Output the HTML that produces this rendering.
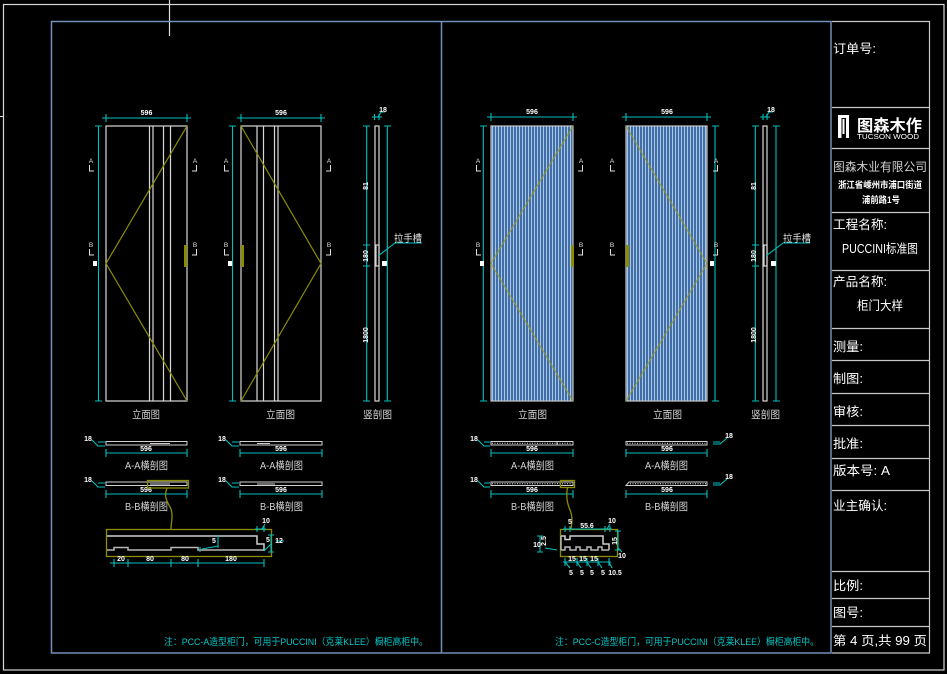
<!DOCTYPE html>
<html><head><meta charset="utf-8">
<style>
html,body{margin:0;padding:0;background:#000;}
svg{display:block;}
text{font-family:"Liberation Sans","Noto Sans CJK SC",sans-serif;}
.t{fill:#fff;font-size:12.5px;}
.d{fill:#fff;font-size:7px;font-weight:bold;}
.lb{fill:#d4d4d4;font-size:10.5px;}
.mk{fill:#e0e0e0;font-size:6.5px;}
</style></head><body>
<svg width="947" height="674" viewBox="0 0 947 674" xmlns="http://www.w3.org/2000/svg">
<defs>
<pattern id="st" x="0" y="0" width="3" height="10" patternUnits="userSpaceOnUse">
<rect width="3" height="10" fill="#416ea6"/>
<rect width="1" height="10" fill="#a8c6e8"/>
</pattern>
</defs>
<rect width="947" height="674" fill="#000"/>

<!-- outer white frame -->
<rect x="3.5" y="4.5" width="940.5" height="665.5" fill="none" stroke="#d6d6d6" stroke-width="1.2"/>
<line x1="169.5" y1="0" x2="169.5" y2="36" stroke="#e0e0e0" stroke-width="1.2"/>
<line x1="0" y1="116.5" x2="4" y2="116.5" stroke="#e0e0e0"/>

<!-- blue frame -->
<rect x="51.5" y="21.5" width="779.5" height="631.5" fill="none" stroke="#7090b8" stroke-width="1.5"/>
<line x1="441.5" y1="21" x2="441.5" y2="653" stroke="#7090b8" stroke-width="1.5"/>

<!-- title block -->
<g stroke="#c8c8c8" stroke-width="1.2" fill="none">
<path d="M832,21.5H929.5V653H832"/>
<path d="M832,107.5H929 M832,148.5H929 M832,212.5H929 M832,270.5H929 M832,328.5H929 M832,360.5H929 M832,393.5H929 M832,425.5H929 M832,458.5H929 M832,490.5H929 M832,571.5H929 M832,598.5H929 M832,626.5H929"/>
</g>
<text class="t" x="833" y="53" textLength="43" lengthAdjust="spacingAndGlyphs">订单号:</text>
<g fill="#fff">
<rect x="838" y="115" width="11" height="3"/>
<rect x="838" y="115" width="3.5" height="23"/>
<rect x="842.5" y="119" width="2" height="15"/>
<rect x="846" y="118" width="3" height="20"/>
</g>
<text x="857" y="131" fill="#fff" font-size="16" font-weight="bold" textLength="65" lengthAdjust="spacingAndGlyphs">图森木作</text>
<text x="857" y="139" fill="#fff" font-size="7" textLength="62" lengthAdjust="spacingAndGlyphs">TUCSON WOOD</text>
<text x="833" y="171" fill="#d0d0d0" font-size="12" textLength="94" lengthAdjust="spacingAndGlyphs">图森木业有限公司</text>
<text x="838" y="188" fill="#fff" font-size="9" font-weight="bold" textLength="84" lengthAdjust="spacingAndGlyphs">浙江省嵊州市浦口街道</text>
<text x="862" y="203" fill="#fff" font-size="9" font-weight="bold" textLength="38" lengthAdjust="spacingAndGlyphs">浦前路1号</text>
<text class="t" x="833" y="229" textLength="54" lengthAdjust="spacingAndGlyphs">工程名称:</text>
<text class="t" x="842" y="253" textLength="76" lengthAdjust="spacingAndGlyphs">PUCCINI标准图</text>
<text class="t" x="833" y="286" textLength="54" lengthAdjust="spacingAndGlyphs">产品名称:</text>
<text class="t" x="857" y="310" textLength="46" lengthAdjust="spacingAndGlyphs">柜门大样</text>
<text class="t" x="833" y="351" textLength="30" lengthAdjust="spacingAndGlyphs">测量:</text>
<text class="t" x="833" y="383" textLength="30" lengthAdjust="spacingAndGlyphs">制图:</text>
<text class="t" x="833" y="416" textLength="30" lengthAdjust="spacingAndGlyphs">审核:</text>
<text class="t" x="833" y="448" textLength="30" lengthAdjust="spacingAndGlyphs">批准:</text>
<text class="t" x="833" y="475" textLength="57" lengthAdjust="spacingAndGlyphs">版本号: A</text>
<text class="t" x="833" y="510" textLength="54" lengthAdjust="spacingAndGlyphs">业主确认:</text>
<text class="t" x="833" y="590" textLength="30" lengthAdjust="spacingAndGlyphs">比例:</text>
<text class="t" x="833" y="617" textLength="30" lengthAdjust="spacingAndGlyphs">图号:</text>
<text class="t" x="833" y="645" textLength="94" lengthAdjust="spacingAndGlyphs">第 4 页,共 99 页</text>

<!-- ============ LEFT DOORS ============ -->
<g stroke="#d8d8d8" stroke-width="1.2" fill="none">
<rect x="106" y="126" width="81" height="275"/>
<path d="M149.5,126V401 M153,126V401 M163.5,126V401 M170.5,126V401"/>
<rect x="241" y="126" width="80" height="275"/>
<path d="M257,126V401 M263.5,126V401 M274.5,126V401 M278,126V401"/>
<rect x="375" y="126" width="4" height="275"/>
<rect x="376" y="245" width="3" height="21"/>
</g>
<g stroke="#8c8c00" stroke-width="1.2" fill="none">
<polyline points="187,126 106,263.5 187,401"/>
<polyline points="241,126 321,263.5 241,401"/>
</g>
<rect x="184" y="245" width="3" height="22" fill="#8c8c00"/>
<rect x="241" y="245" width="3" height="22" fill="#8c8c00"/>

<!-- ============ RIGHT DOORS ============ -->
<rect x="491" y="126" width="82" height="275" fill="url(#st)" stroke="#c8c8c8" stroke-width="1.2"/>
<rect x="626" y="126" width="81" height="275" fill="url(#st)" stroke="#c8c8c8" stroke-width="1.2"/>
<g stroke="#9a9a10" stroke-width="1.2" fill="none" opacity="0.75">
<polyline points="573,126 491,263.5 573,401"/>
<polyline points="626,126 707,263.5 626,401"/>
</g>
<rect x="571" y="245" width="3" height="22" fill="#8c8c00"/>
<rect x="626" y="245" width="3" height="22" fill="#8c8c00"/>
<g stroke="#d8d8d8" stroke-width="1.2" fill="none">
<rect x="763" y="126" width="4" height="275"/>
<rect x="764" y="245" width="3" height="21"/>
</g>

<!-- dimensions elevations -->
<g stroke="#00c0c0" stroke-width="1.1" fill="none">
<path d="M106,118H187 M106,114V122 M187,114V122 M102,118H110 M183,118H191"/>
<path d="M98.5,126V401 M95,126H102 M95,401H102"/>
<path d="M241,118H321 M241,114V122 M321,114V122 M237,118H245 M317,118H325"/>
<path d="M232.5,126V401 M229,126H236 M229,401H236"/>
<path d="M366.7,126V401 M363,126H370 M363,245H370 M363,266H370 M363,401H370"/>
<path d="M387.3,126V401 M384,126H391 M384,401H391"/>
<path d="M372,117H382 M374.5,114V120 M379,114V120 M378,117L381,112H385"/>
<path d="M395,243H422 M395,243L378,256"/>

<path d="M491,117H573 M491,113V121 M573,113V121 M487,117H495 M569,117H577"/>
<path d="M483.3,126V401 M480,126H487 M480,401H487"/>
<path d="M626,117H707 M626,113V121 M707,113V121 M622,117H630 M703,117H711"/>
<path d="M715,126V401 M712,126H719 M712,401H719"/>
<path d="M755.3,126V401 M752,126H759 M752,245H759 M752,266H759 M752,401H759"/>
<path d="M776,126V401 M773,126H780 M773,401H780"/>
<path d="M760,117H770 M763,114V120 M767,114V120 M766,117L769,112H773"/>
<path d="M783,243H810 M783,243L766,256"/>
</g>
<text class="d" x="146.5" y="115" text-anchor="middle">596</text>
<text class="d" x="281" y="115" text-anchor="middle">596</text>
<text class="d" x="383" y="112" text-anchor="middle">18</text>
<text class="d" x="532" y="114" text-anchor="middle">596</text>
<text class="d" x="667" y="114" text-anchor="middle">596</text>
<text class="d" x="771" y="112" text-anchor="middle">18</text>
<g fill="#fff">
<rect x="93" y="261" width="4" height="5"/>
<rect x="228" y="261" width="4" height="5"/>
<rect x="382" y="261" width="5" height="5"/>
<rect x="480" y="261" width="4" height="5"/>
<rect x="710" y="261" width="4" height="5"/>
<rect x="771" y="261" width="5" height="5"/>
</g>
<g class="d">
<text transform="translate(368,186) rotate(-90)" text-anchor="middle" class="d">81</text>
<text transform="translate(368,256) rotate(-90)" text-anchor="middle" class="d">180</text>
<text transform="translate(368,335) rotate(-90)" text-anchor="middle" class="d">1800</text>
<text transform="translate(756,186) rotate(-90)" text-anchor="middle" class="d">81</text>
<text transform="translate(756,256) rotate(-90)" text-anchor="middle" class="d">180</text>
<text transform="translate(756,335) rotate(-90)" text-anchor="middle" class="d">1800</text>
</g>
<text x="394" y="242" fill="#e0e0e0" font-size="10" textLength="28" lengthAdjust="spacingAndGlyphs">拉手槽</text>
<text x="783" y="242" fill="#e0e0e0" font-size="10" textLength="28" lengthAdjust="spacingAndGlyphs">拉手槽</text>

<!-- section marks -->
<g stroke="#e0e0e0" stroke-width="1" fill="none">
<path d="M89.5,165V171H94 M89.5,249V255H94"/>
<path d="M196.5,165V171H192 M196.5,249V255H192"/>
<path d="M224.5,165V171H229 M224.5,249V255H229"/>
<path d="M330.5,165V171H326 M330.5,249V255H326"/>
<path d="M476.5,165V171H481 M476.5,249V255H481"/>
<path d="M582.5,165V171H578 M582.5,249V255H578"/>
<path d="M610.5,165V171H615 M610.5,249V255H615"/>
<path d="M717.5,165V171H713 M717.5,249V255H713"/>
</g>
<g class="mk" text-anchor="middle">
<text x="91" y="163">A</text><text x="91" y="247">B</text>
<text x="195" y="163">A</text><text x="195" y="247">B</text>
<text x="226" y="163">A</text><text x="226" y="247">B</text>
<text x="329" y="163">A</text><text x="329" y="247">B</text>
<text x="478" y="163">A</text><text x="478" y="247">B</text>
<text x="581" y="163">A</text><text x="581" y="247">B</text>
<text x="612" y="163">A</text><text x="612" y="247">B</text>
<text x="716" y="163">A</text><text x="716" y="247">B</text>
</g>

<!-- elevation labels -->
<text class="lb" x="132" y="418" textLength="28" lengthAdjust="spacingAndGlyphs">立面图</text>
<text class="lb" x="266" y="418" textLength="29" lengthAdjust="spacingAndGlyphs">立面图</text>
<text class="lb" x="363" y="418" textLength="29" lengthAdjust="spacingAndGlyphs">竖剖图</text>
<text class="lb" x="518" y="418" textLength="29" lengthAdjust="spacingAndGlyphs">立面图</text>
<text class="lb" x="653" y="418" textLength="29" lengthAdjust="spacingAndGlyphs">立面图</text>
<text class="lb" x="751" y="418" textLength="29" lengthAdjust="spacingAndGlyphs">竖剖图</text>

<!-- ============ LEFT SECTIONS ============ -->
<g stroke="#d0d0d0" stroke-width="1" fill="none">
<rect x="106" y="441.5" width="81" height="3.5"/>
<path d="M150,443.5H170"/>
<rect x="240" y="441.5" width="82" height="3.5"/>
<path d="M257,443.5H270"/>
<rect x="106" y="482" width="81" height="3.5"/>
<path d="M150,484H170"/>
<rect x="240" y="482" width="82" height="3.5"/>
<path d="M257,484H275"/>
</g>
<g stroke="#00c0c0" stroke-width="1.1" fill="none">
<path d="M106,453H187 M106,449V457 M187,449V457"/>
<path d="M240,453H322 M240,449V457 M322,449V457"/>
<path d="M106,494H187 M106,490V498 M187,490V498"/>
<path d="M240,494H322 M240,490V498 M322,490V498"/>
<path d="M92,440L98,446H105 M98,442H105"/>
<path d="M226,440L232,446H239 M232,442H239"/>
<path d="M92,481L98,487H105 M98,483H105"/>
<path d="M226,481L232,487H239 M232,483H239"/>
</g>
<g class="d">
<text x="88" y="441" text-anchor="middle" class="d">18</text>
<text x="222" y="441" text-anchor="middle" class="d">18</text>
<text x="88" y="482" text-anchor="middle" class="d">18</text>
<text x="222" y="482" text-anchor="middle" class="d">18</text>
<text x="146" y="451" text-anchor="middle" class="d">596</text>
<text x="281" y="451" text-anchor="middle" class="d">596</text>
<text x="146" y="492" text-anchor="middle" class="d">596</text>
<text x="281" y="492" text-anchor="middle" class="d">596</text>
</g>
<text class="lb" x="125" y="469" textLength="43" lengthAdjust="spacingAndGlyphs">A-A横剖图</text>
<text class="lb" x="260" y="469" textLength="43" lengthAdjust="spacingAndGlyphs">A-A横剖图</text>
<text class="lb" x="125" y="510" textLength="43" lengthAdjust="spacingAndGlyphs">B-B横剖图</text>
<text class="lb" x="260" y="510" textLength="43" lengthAdjust="spacingAndGlyphs">B-B横剖图</text>

<!-- left detail -->
<g stroke="#8c8c00" stroke-width="1.3" fill="none">
<rect x="147.5" y="480.5" width="41" height="7.5"/>
<path d="M167,488 C164,495 166,500 170,507 C174,514 171,522 171,529"/>
<rect x="106.5" y="529.5" width="165" height="27"/>
</g>
<g stroke="#d0d0d0" stroke-width="1.5" fill="none">
<path d="M107,536H257V544H264V551"/>
<path d="M107,550H114V547.5H128V550H171V547.5H198V550H264" stroke="#b8b8b8"/>
</g>
<g stroke="#00c0c0" stroke-width="1.1" fill="none">
<path d="M114,563H264 M114,559V567 M128,559V567 M171,559V567 M198,559V567 M264,559V567 M110,563H114"/>
<path d="M255,529H266 M257,526V532 M264,526V532 M262,529L265,524"/>
<path d="M271,535V552 M268,535H274 M268,552H274 M271,544L264,551 M276,541H284"/>
<path d="M218,535V548 M218,546L202,549 M200,547V552"/>
</g>
<g class="d">
<text x="121" y="561" text-anchor="middle" class="d">20</text>
<text x="150" y="561" text-anchor="middle" class="d">80</text>
<text x="185" y="561" text-anchor="middle" class="d">80</text>
<text x="231" y="561" text-anchor="middle" class="d">180</text>
<text x="266" y="523" text-anchor="middle" class="d">10</text>
<text x="268" y="542" text-anchor="middle" class="d">5</text>
<text x="279" y="543" text-anchor="middle" class="d">12</text>
<text x="214" y="543" text-anchor="middle" class="d">5</text>
</g>

<!-- ============ RIGHT SECTIONS ============ -->
<g stroke="#d0d0d0" stroke-width="1" fill="none">
<rect x="491" y="441.5" width="82" height="3.5"/>
<path d="M557,441.5V445"/>
<rect x="626" y="441.5" width="81" height="3.5"/>
<rect x="491" y="482" width="82" height="3.5"/>
<path d="M626,485.5L629,482H707V485.5Z"/>
</g>
<g stroke="#e8e8e8" stroke-width="1" stroke-dasharray="1 1.5" fill="none">
<path d="M492,443.3H572 M627,443.3H706 M492,483.8H572 M630,483.8H706"/>
</g>
<g stroke="#00c0c0" stroke-width="1.1" fill="none">
<path d="M491,453H573 M491,449V457 M573,449V457"/>
<path d="M626,453H707 M626,449V457 M707,449V457"/>
<path d="M491,494H573 M491,490V498 M573,490V498"/>
<path d="M626,494H707 M626,490V498 M707,490V498"/>
<path d="M478,440L484,446H490 M484,442H490"/>
<path d="M478,481L484,487H490 M484,483H490"/>
<path d="M727,438L720,444H713 M720,442H713"/>
<path d="M727,479L720,485H713 M720,483H713"/>
</g>
<g class="d">
<text x="474" y="441" text-anchor="middle" class="d">18</text>
<text x="474" y="482" text-anchor="middle" class="d">18</text>
<text x="729" y="438" text-anchor="middle" class="d">18</text>
<text x="729" y="479" text-anchor="middle" class="d">18</text>
<text x="532" y="451" text-anchor="middle" class="d">596</text>
<text x="667" y="451" text-anchor="middle" class="d">596</text>
<text x="532" y="492" text-anchor="middle" class="d">596</text>
<text x="667" y="492" text-anchor="middle" class="d">596</text>
</g>
<text class="lb" x="511" y="469" textLength="43" lengthAdjust="spacingAndGlyphs">A-A横剖图</text>
<text class="lb" x="645" y="469" textLength="43" lengthAdjust="spacingAndGlyphs">A-A横剖图</text>
<text class="lb" x="511" y="510" textLength="43" lengthAdjust="spacingAndGlyphs">B-B横剖图</text>
<text class="lb" x="645" y="510" textLength="43" lengthAdjust="spacingAndGlyphs">B-B横剖图</text>

<!-- right detail -->
<g stroke="#8c8c00" stroke-width="1.3" fill="none">
<rect x="560.5" y="480.5" width="14" height="7"/>
<path d="M567.5,487.5 C566,495 567,503 570,510 C573,517 572,523 571,529"/>
<rect x="560.5" y="529.5" width="57" height="27"/>
</g>
<g stroke="#d0d0d0" stroke-width="1.5" fill="none">
<path d="M561,536H565V539.5H570V536H603V544H609V550"/>
<path d="M561,550H565V547H570V550H576V547H580V550H587V547H591V550H598V547H602V550H609" stroke="#b8b8b8"/>
<path d="M561,536V550" stroke="#b8b8b8"/>
</g>
<g stroke="#00c0c0" stroke-width="1.1" fill="none">
<path d="M563,529H612 M565,526V532 M570,526V532 M605,526V532 M610,526V532 M607,529L610,524"/>
<path d="M618,531V550 M615,531H621 M615,550H621 M618,548L622,552"/>
<path d="M540,536V552 M537,536H543 M537,552H543 M545,548L557,550"/>
<path d="M563,562H611 M565,558V566 M577,558V566 M587,558V566 M598,558V566 M609,558V566"/>
<path d="M565,562L570,568 M577,562L581,568 M587,562L591,568 M598,562L602,568 M609,562L612,568"/>
</g>
<g class="d">
<text x="570" y="524" text-anchor="middle" class="d">5</text>
<text x="587" y="528" text-anchor="middle" class="d">55.6</text>
<text x="612" y="523" text-anchor="middle" class="d">10</text>
<text transform="translate(617,541) rotate(-90)" text-anchor="middle" class="d">15</text>
<text x="622" y="558" text-anchor="middle" class="d">10</text>
<text x="537" y="547" text-anchor="middle" class="d">10</text>
<text transform="translate(546,541) rotate(-90)" text-anchor="middle" class="d">2.5</text>
<text x="572" y="561" text-anchor="middle" class="d">15</text>
<text x="583" y="561" text-anchor="middle" class="d">15</text>
<text x="594" y="561" text-anchor="middle" class="d">15</text>
<text x="571" y="575" text-anchor="middle" class="d">5</text>
<text x="582" y="575" text-anchor="middle" class="d">5</text>
<text x="592" y="575" text-anchor="middle" class="d">5</text>
<text x="603" y="575" text-anchor="middle" class="d">5</text>
<text x="615" y="575" text-anchor="middle" class="d">10.5</text>
</g>

<!-- notes -->
<text x="164" y="645" fill="#00c8c8" font-size="9.5" textLength="264" lengthAdjust="spacingAndGlyphs">注：PCC-A造型柜门，可用于PUCCINI（克莱KLEE）橱柜高柜中。</text>
<text x="555" y="645" fill="#00c8c8" font-size="9.5" textLength="264" lengthAdjust="spacingAndGlyphs">注：PCC-C造型柜门，可用于PUCCINI（克莱KLEE）橱柜高柜中。</text>
</svg>
</body></html>
